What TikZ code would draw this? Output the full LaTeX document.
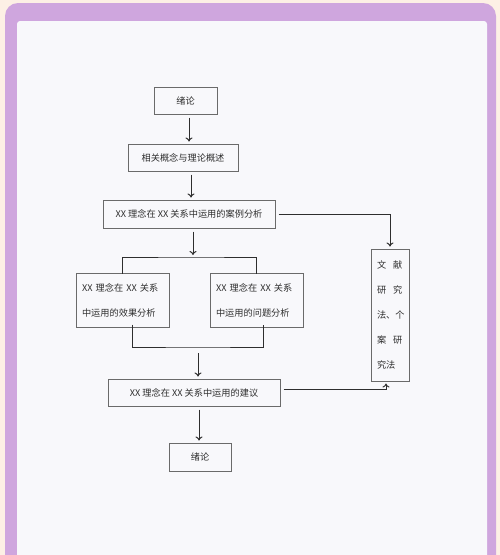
\documentclass[tikz,border=0pt]{standalone}
\usepackage{fontspec}
\usepackage[dvipsnames]{xcolor}
\usetikzlibrary{arrows.meta}
\newfontfamily\cjk{Noto Sans CJK SC}
\definecolor{peach}{HTML}{FDF0E5}
\definecolor{lilac}{HTML}{CFA6DE}
\definecolor{paper}{HTML}{F8F8FB}
\definecolor{ink}{HTML}{2E2E2E}
\definecolor{rim}{HTML}{6A6A6A}

\begin{document}
\begin{tikzpicture}[x=1pt,y=-1pt,->,>={To[length=4pt,width=7pt]},shorten >=2pt,shorten <=3pt,line width=1pt,draw=ink,
    main node/.style={rectangle,draw=rim,line width=1pt,text=ink,font=\cjk\fontsize{9.2}{25}\selectfont,inner sep=0pt},
    two line/.style={main node,align=left,text width=81pt,inner xsep=6pt,minimum height=54pt},
    bracket/.style={-,shorten >=0pt,shorten <=0pt}]
    \clip (0,0) rectangle (500,555);
    \fill[peach] (0,0) rectangle (500,555);
    \fill[lilac,rounded corners=13pt] (5,3) rectangle (496,620);
    \fill[paper,rounded corners=3pt] (17,21) rectangle (487,620);

                \node[main node,minimum width=63pt,minimum height=27pt] (1) at (185.5,100.5) {绪论};
                \node[main node,minimum width=110pt,minimum height=27pt] (2) at (183,157.5) {相关概念与理论概述};
                \node[main node,minimum width=172pt,minimum height=28pt] (3) at (189,214) {XX 理念在 XX 关系中运用的案例分析};
                \node[two line] (4) at (122.5,300) {XX 理念在 XX 关系\\中运用的效果分析};
                \node[two line] (5) at (256.5,300) {XX 理念在 XX 关系\\中运用的问题分析};
                \node[main node,minimum width=172pt,minimum height=27pt] (6) at (194,392.5) {XX 理念在 XX 关系中运用的建议};
                \node[main node,minimum width=62pt,minimum height=28pt] (7) at (200,457) {绪论};
                \node[main node,align=left,text width=26pt,inner xsep=6pt,minimum height=132pt] (8) at (390,315)
                    {文\hspace{7pt}献\\研\hspace{7pt}究\\法、个\\案\hspace{7pt}研\\究法};

                \coordinate (top) at (193,257);
                \coordinate (low) at (198,347);

                \draw ([xshift=3.5pt]1.south) -- ([xshift=3.5pt]1.south |- 2.north);
                \draw ([xshift=8pt]2.south) -- ([xshift=8pt]2.south |- 3.north);
                \draw ([xshift=4pt]3.south) -- (top);
                \draw[bracket] ([yshift=-1pt]4.north) |- (top) -| ([yshift=-1pt]5.north);
                \draw[bracket] ([xshift=9.5pt,yshift=3pt]4.south) |- (low) -| ([xshift=6.5pt,yshift=3pt]5.south);
                \draw[shorten <=6pt] (low) -- (6.north -| low);
                \draw ([xshift=5pt]6.south) -- ([xshift=5pt]6.south |- 7.north);
                \draw (3.east) -| (8.north);
                \draw ([yshift=3.5pt]6.east) -| ([xshift=-4pt]8.south);
            \end{tikzpicture}
\end{document}
